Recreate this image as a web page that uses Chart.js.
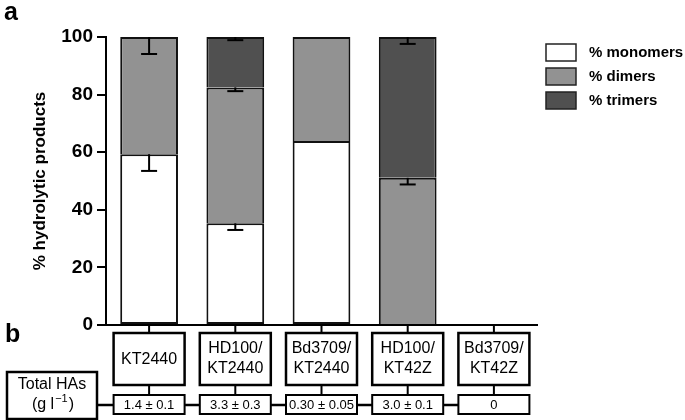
<!DOCTYPE html>
<html>
<head>
<meta charset="utf-8">
<script src="https://cdn.jsdelivr.net/npm/chart.js@4/dist/chart.umd.min.js"></script>
<style>
	body { margin: 0; background: #fff; }
</style>
</head>
<body>
<canvas id="chart" width="685" height="420"></canvas>
<script>
var strainLines = [['KT2440'], ['HD100/', 'KT2440'], ['Bd3709/', 'KT2440'], ['HD100/', 'KT42Z'], ['Bd3709/', 'KT42Z']];
var labels = strainLines.map(l => l.join(''));
var monomers = [59.3, 35.3, 63.9, 0, 0];
var dimers = [40.7, 47.2, 36.1, 51.1, 0];
var trimers = [0, 17.5, 0, 48.9, 0];
var errMonomers = [5.8, 2.3, 0, 0, 0];
var errDimers = [5.9, 1.3, 0, 2.3, 0];
var errTrimers = [0, 1.1, 0, 2.4, 0];
var totalHAs = ['1.4 \u00b1 0.1', '3.3 \u00b1 0.3', '0.30 \u00b1 0.05', '3.0 \u00b1 0.1', '0'];
var yTicks = [0, 20, 40, 60, 80, 100];

var seriesNames = ['% monomers', '% dimers', '% trimers'];
var seriesColors = ['#ffffff', '#929292', '#505050'];
var FONT = "'Liberation Sans', Arial, sans-serif";

function line(ctx, x1, y1, x2, y2) {
	ctx.beginPath();
	ctx.moveTo(x1, y1);
	ctx.lineTo(x2, y2);
	ctx.stroke();
}

// error bars hang down from the top of each segment
var errorBars = {
	id: 'errorBars',
	afterDatasetsDraw: (chart) => {
		var ctx = chart.ctx;
		var xs = chart.scales.x;
		var ys = chart.scales.y;
		var series = [monomers, dimers, trimers];
		var errs = [errMonomers, errDimers, errTrimers];
		ctx.save();
		ctx.strokeStyle = '#000';
		ctx.lineWidth = 2;
		labels.forEach((lab, i) => {
			var top = 0;
			series.forEach((s, k) => {
				top += s[i];
				var e = errs[k][i];
				if (!e) return;
				var cx = xs.getPixelForValue(i);
				var y1 = ys.getPixelForValue(top);
				var y2 = ys.getPixelForValue(top - e);
				line(ctx, cx, y1, cx, y2);
				line(ctx, cx - 8, y2, cx + 8, y2);
			});
		});
		ctx.restore();
	}
};

// legend, panel letters and the strain / total HAs boxes under the axis
var extras = {
	id: 'extras',
	afterDraw: (chart) => {
		var ctx = chart.ctx;
		var xs = chart.scales.x;
		var base = chart.chartArea.bottom;
		ctx.save();

		// x axis runs left under the 0 tick
		ctx.strokeStyle = '#000';
		ctx.lineWidth = 2;
		line(ctx, 97, base, chart.chartArea.left, base);

		// legend
		seriesNames.forEach((name, k) => {
			var ly = 44 + k * 24;
			ctx.fillStyle = seriesColors[k];
			ctx.fillRect(546, ly, 30, 17);
			ctx.strokeStyle = '#222';
			ctx.lineWidth = 1.5;
			ctx.strokeRect(546, ly, 30, 17);
			ctx.fillStyle = '#000';
			ctx.font = 'bold 15px ' + FONT;
			ctx.textAlign = 'left';
			ctx.textBaseline = 'middle';
			ctx.fillText(name, 589, ly + 9);
		});

		// panel letters
		ctx.font = 'bold 25px ' + FONT;
		ctx.textBaseline = 'alphabetic';
		ctx.fillText('a', 4, 20);
		ctx.fillText('b', 5, 342);

		// total HAs box
		ctx.strokeStyle = '#000';
		ctx.lineWidth = 2.5;
		ctx.strokeRect(7, 372, 90, 47);
		ctx.font = '16px ' + FONT;
		ctx.textAlign = 'center';
		ctx.textBaseline = 'middle';
		ctx.fillText('Total HAs', 52, 385);
		var p1 = '(g l', p2 = '\u22121', p3 = ')';
		ctx.font = '16px ' + FONT;
		var w1 = ctx.measureText(p1).width;
		var w3 = ctx.measureText(p3).width;
		ctx.font = '11px ' + FONT;
		var w2 = ctx.measureText(p2).width;
		var sx = 52 - (w1 + w2 + w3) / 2;
		ctx.textAlign = 'left';
		ctx.font = '16px ' + FONT;
		ctx.fillText(p1, sx, 405);
		ctx.font = '11px ' + FONT;
		ctx.fillText(p2, sx + w1 + 1, 399);
		ctx.font = '16px ' + FONT;
		ctx.fillText(p3, sx + w1 + w2 + 2, 405);

		var prevRight = 97;
		labels.forEach((lab, i) => {
			var cx = xs.getPixelForValue(i);
			ctx.lineWidth = 2;
			line(ctx, cx, base, cx, base + 8);
			ctx.lineWidth = 2.5;
			ctx.strokeRect(cx - 35.5, base + 8, 71, 52);
			ctx.lineWidth = 2;
			line(ctx, cx, base + 60, cx, base + 70);
			ctx.strokeRect(cx - 35.5, base + 70, 71, 19);
			ctx.lineWidth = 2.5;
			line(ctx, prevRight, base + 80, cx - 35.5, base + 80);
			prevRight = cx + 35.5;

			ctx.fillStyle = '#000';
			ctx.textAlign = 'center';
			ctx.textBaseline = 'middle';
			ctx.font = '16px ' + FONT;
			var ls = strainLines[i];
			if (ls.length == 1) {
				ctx.fillText(ls[0], cx, base + 35);
			}
			else {
				ctx.fillText(ls[0], cx, base + 24);
				ctx.fillText(ls[1], cx, base + 44);
			}
			ctx.font = '13px ' + FONT;
			ctx.fillText(totalHAs[i], cx, base + 80);
		});
		ctx.restore();
	}
};

var config = {
	type: 'bar',
	data: {
		labels: labels,
		datasets: [
			{ label: seriesNames[0], data: monomers, backgroundColor: seriesColors[0], borderSkipped: false },
			{ label: seriesNames[1], data: dimers, backgroundColor: seriesColors[1], borderSkipped: 'start' },
			{ label: seriesNames[2], data: trimers, backgroundColor: seriesColors[2], borderSkipped: 'start' }
		].map(d => Object.assign(d, {
			borderColor: '#111',
			borderWidth: 2,
			categoryPercentage: 1,
			barPercentage: 0.67
		}))
	},
	options: {
		responsive: false,
		animation: false,
		layout: {
			padding: { top: 37, right: 148, left: 0, bottom: 0 }
		},
		plugins: {
			legend: { display: false },
			tooltip: { enabled: false }
		},
		scales: {
			x: {
				stacked: true,
				afterFit: (s) => { s.height = 95; },
				grid: { display: false },
				ticks: { display: false },
				border: { display: true, color: '#000', width: 2 }
			},
			y: {
				stacked: true,
				min: 0,
				max: 100,
				afterFit: (s) => { s.width = 106; },
				afterBuildTicks: (s) => { s.ticks = yTicks.map(v => ({ value: v })); },
				grid: {
					drawOnChartArea: false,
					drawTicks: true,
					tickLength: 9,
					color: '#000',
					lineWidth: 2
				},
				border: { display: true, color: '#000', width: 2 },
				ticks: {
					color: '#000',
					padding: 4,
					font: { family: FONT, size: 19, weight: 'bold' }
				},
				title: {
					display: true,
					text: '% hydrolytic products',
					color: '#000',
					padding: { top: 30, bottom: 0 },
					font: { family: FONT, size: 17, weight: 'bold' }
				}
			}
		}
	},
	plugins: [errorBars, extras]
};

new Chart(document.getElementById('chart').getContext('2d'), config);
</script>
</body>
</html>
